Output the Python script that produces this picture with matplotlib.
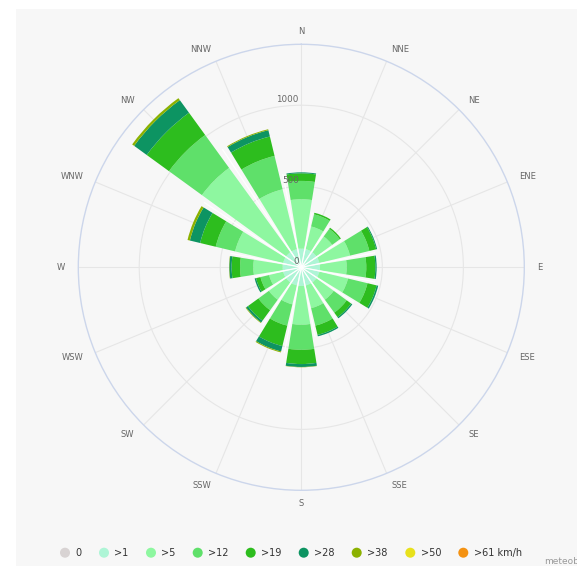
import matplotlib.pyplot as plt
import matplotlib.transforms as mtransforms
import numpy as np

# wind rose: counts per direction, stacked by speed class (km/h)
directions = ["N", "NNE", "NE", "ENE", "E", "ESE", "SE", "SSE",
              "S", "SSW", "SW", "WSW", "W", "WNW", "NW", "NNW"]
speed_labels = ["0", ">1", ">5", ">12", ">19", ">28", ">38", ">50", ">61 km/h"]
speed_colors = ["#d8d3d3", "#aef5d6", "#8ef7a0", "#5fe06a", "#2dbd1e",
                "#0d9462", "#8bb100", "#e8e11c", "#f49212"]

calm = [0, 0, 0, 0, 0, 0, 0, 0, 0, 0, 0, 0, 0, 0, 0, 0]
s1 = [115, 115, 115, 115, 115, 115, 115, 115, 115, 115, 115, 115, 115, 115, 115, 115]
s5 = [305, 144, 120, 194, 165, 181, 132, 144, 239, 120, 132, 89, 181, 305, 643, 380]
s12 = [113, 77, 58, 123, 121, 124, 99, 111, 155, 135, 80, 55, 82, 123, 251, 212]
s19 = [47, 10, 9, 43, 56, 58, 34, 59, 88, 130, 80, 28, 52, 99, 170, 123]
s28 = [6, 0, 0, 6, 8, 10, 9, 9, 18, 34, 14, 9, 14, 65, 96, 40]
s38 = [0, 0, 0, 0, 0, 0, 0, 0, 2, 6, 4, 0, 2, 15, 15, 6]
s50 = [0, 0, 0, 0, 0, 0, 0, 0, 0, 0, 0, 0, 0, 0, 0, 0]
s61 = [0, 0, 0, 0, 0, 0, 0, 0, 0, 0, 0, 0, 0, 0, 0, 0]
series = [calm, s1, s5, s12, s19, s28, s38, s50, s61]

R_MAX = 1376
W, H = 586, 566

fig = plt.figure(figsize=(W / 100, H / 100), dpi=100, facecolor="white")

# grey panel behind everything, in pixel coordinates
bg = fig.add_axes([16 / W, 0, (577 - 16) / W, (566 - 9) / H], zorder=0)
bg.set_facecolor("#f7f7f7")
bg.set_xlim(16, 577)
bg.set_ylim(566, 9)
bg.set_xticks([])
bg.set_yticks([])
for s in bg.spines.values():
    s.set_visible(False)

# polar plot: centre (301.3, 267.3) px, radius 223 px
cx, cy, rad = 301.3, 267.3, 223
ax = fig.add_axes([(cx - rad) / W, (H - cy - rad) / H, 2 * rad / W, 2 * rad / H],
                  projection="polar", zorder=2)
ax.set_facecolor("#f7f7f7")
ax.set_theta_zero_location("N")
ax.set_theta_direction(-1)
ax.set_ylim(0, R_MAX)

step = 2 * np.pi / len(directions)
theta = np.arange(len(directions)) * step
ax.set_xticks(theta)
ax.set_xticklabels([])
ax.set_yticks([500, 1000])
ax.set_yticklabels([])
ax.grid(color="#e6e6e6", lw=0.8)
ax.spines["polar"].set_color("#ccd6eb")
ax.spines["polar"].set_linewidth(1.0)

bottom = np.zeros(len(directions))
for vals, col in zip(series, speed_colors):
    vals = np.array(vals, dtype=float)
    ax.bar(theta, vals, width=step * 0.8, bottom=bottom, color=col,
           edgecolor="none", linewidth=0, zorder=3)
    bottom += vals

# thin white separators between neighbouring bars
for i in range(len(directions)):
    reach = min(bottom[i], bottom[(i + 1) % len(directions)])
    ax.plot([theta[i] + step / 2] * 2, [0, reach], color="white", lw=0.9,
            solid_capstyle="butt", zorder=4)

# radial value labels along the north spoke
for v in [0, 500, 1000]:
    tr = mtransforms.offset_copy(ax.transData, fig=fig, x=-2.5, y=1.5, units="dots")
    ax.text(0, v, str(v), transform=tr, ha="right", va="bottom",
            fontsize=6.3, color="#666666", zorder=5)

# compass labels outside the circle
for ang, name in zip(theta, directions):
    sx, sy = np.sin(ang), np.cos(ang)
    if abs(sx) < 0.1:
        ha = "center"
    elif sx > 0:
        ha = "left"
    else:
        ha = "right"
    d = 236 - rad
    tr = mtransforms.offset_copy(ax.transData, fig=fig, x=d * sx, y=d * sy, units="dots")
    ax.text(ang, R_MAX, name, transform=tr, ha=ha, va="center",
            fontsize=6, color="#666666", clip_on=False)

# legend row
legend_x = [65, 104, 151, 197.7, 250.7, 303.7, 356.7, 410.3, 463.3]
legend_y = 552.7
for x, lab, col in zip(legend_x, speed_labels, speed_colors):
    bg.scatter([x], [legend_y], s=52, color=col, edgecolor="none", zorder=3)
    bg.text(x + 10.5, legend_y, lab, ha="left", va="center",
            fontsize=7, color="#333333")

bg.text(544, 562, "meteoblue", ha="left", va="center", fontsize=6.5,
        color="#999999", clip_on=True)

fig.savefig("out.png", dpi=100, facecolor="white")
